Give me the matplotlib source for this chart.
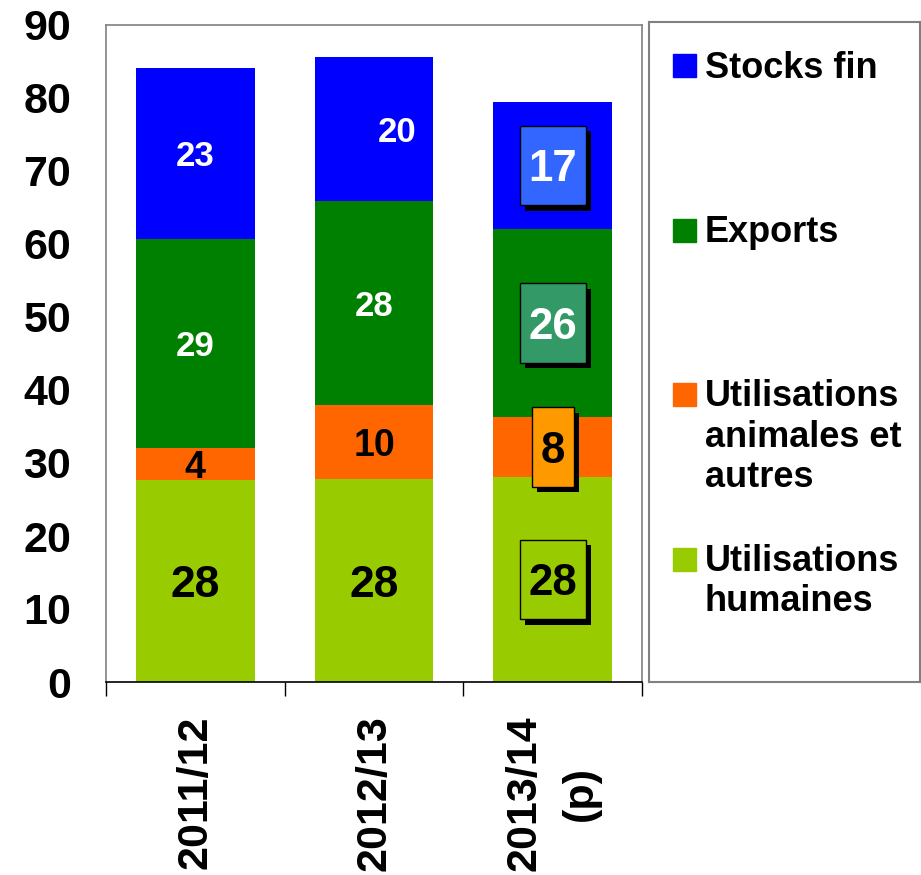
import matplotlib.pyplot as plt
import numpy as np
from matplotlib import patheffects
from matplotlib.path import Path
from matplotlib.patches import Rectangle

plt.rcParams['font.family'] = ['Liberation Sans', 'DejaVu Sans']
plt.rcParams['font.weight'] = 'bold'

campagnes = ['2011/12', '2012/13', '2013/14\n(p)']
series = ['Utilisations humaines', 'Utilisations animales et autres', 'Exports', 'Stocks fin']
legende = ['Utilisations\nhumaines', 'Utilisations\nanimales et\nautres', 'Exports', 'Stocks fin']
humaines = [27.7, 27.8, 28.1]
animales = [4.4, 10.1, 8.2]
exports = [28.6, 28.0, 25.8]
stocks = [23.4, 19.7, 17.4]

couleurs = ['#99CC00', '#FF6600', '#008000', '#0000FF']
couleurs_txt = ['black', 'black', 'white', 'white']
tailles_txt = [32, 27, 25, 25]
couleurs_boite = ['#99CC00', '#FF9900', '#339966', '#3366FF']


def boite_haute(x0, y0, width, height, mutation_size):
    # tall box around the digits, like the excel labels
    px = 0.2 * mutation_size
    bas, haut = 0.34 * mutation_size, 0.54 * mutation_size
    return Path([(x0 - px, y0 - bas), (x0 + width + px, y0 - bas),
                 (x0 + width + px, y0 + height + haut), (x0 - px, y0 + height + haut),
                 (x0 - px, y0 - bas)], closed=True)


fig = plt.figure(figsize=(9.21, 8.75), dpi=100)
ax = fig.add_axes([106 / 921, 193 / 875, 536 / 921, 657 / 875])

x = np.arange(len(campagnes))
bottom = np.zeros(len(campagnes))
for k, vals in enumerate([humaines, animales, exports, stocks]):
    vals = np.array(vals)
    ax.bar(x, vals, 0.666, bottom=bottom, color=couleurs[k], label=series[k])
    for i in range(len(campagnes)):
        y = bottom[i] + vals[i] / 2
        txt = f'{vals[i]:.0f}'
        if i == 2:
            t = ax.text(x[i], y, txt, ha='center', va='center_baseline', fontsize=31.5,
                        color=couleurs_txt[k],
                        bbox=dict(boxstyle=boite_haute, fc=couleurs_boite[k],
                                  ec='black', lw=1))
            t.get_bbox_patch().set_path_effects([patheffects.withSimplePatchShadow(
                offset=(4, -4), shadow_rgbFace='black', alpha=1.0)])
        else:
            dx = 16.5 if (k == 3 and i == 1) else 0
            ax.annotate(txt, (x[i], y), xytext=(dx, 0), textcoords='offset points',
                        ha='center', va='center_baseline', fontsize=tailles_txt[k],
                        color=couleurs_txt[k])
    bottom += vals

ax.set_xlim(-0.5, 2.5)
ax.set_ylim(0, 90)
ax.set_yticks(range(0, 91, 10))
ax.set_xticks(x, campagnes)
ax.set_xticks([-0.5, 0.5, 1.5, 2.5], minor=True)
ax.tick_params(axis='y', length=0, pad=25, labelsize=31)
ax.tick_params(axis='x', which='major', length=0, pad=24, labelsize=31, labelrotation=90)
ax.tick_params(axis='x', which='minor', length=10, width=1, color='black')
for lbl in ax.get_xticklabels():
    lbl.set_linespacing(1.5)

for s in ['top', 'left', 'right']:
    ax.spines[s].set_color('#808080')
    ax.spines[s].set_linewidth(1.2)
ax.spines['bottom'].set_color('black')
ax.spines['bottom'].set_linewidth(1.2)

# legend drawn in its own framed box, entries aligned on first line
lax = fig.add_axes([649 / 921, 193 / 875, 270.5 / 921, 660 / 875])
lax.set_xlim(0, 271)
lax.set_ylim(660, 0)
lax.set_xticks([])
lax.set_yticks([])
for s in lax.spines.values():
    s.set_color('#808080')
    s.set_linewidth(1.5)
for k, (lab, col) in enumerate(zip(legende[::-1], couleurs[::-1])):
    base = 55 + 164.5 * k
    lax.add_patch(Rectangle((24, base - 23), 23, 23, color=col))
    lax.text(56, base - 26.5, lab, fontsize=26, va='top', ha='left', linespacing=1.2)

fig.savefig('out.png', dpi=100)
